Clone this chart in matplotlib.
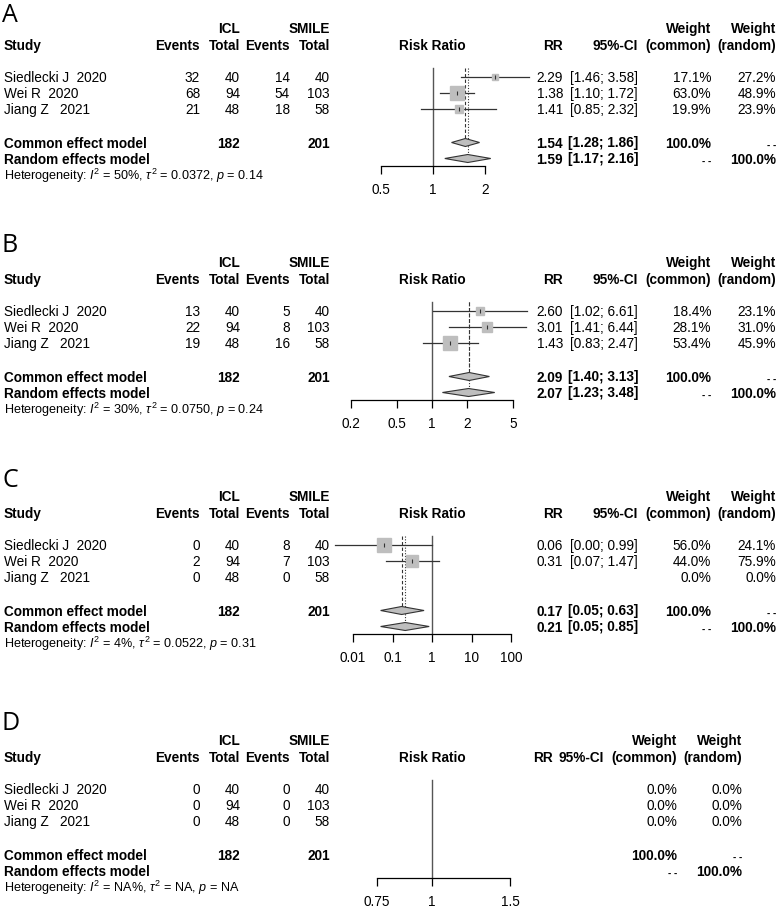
import matplotlib
matplotlib.use("Agg")
import matplotlib.pyplot as plt
from matplotlib.patches import Polygon
from matplotlib.ticker import NullLocator

plt.rcParams["font.family"] = ["Liberation Sans", "DejaVu Sans"]
plt.rcParams["mathtext.fontset"] = "custom"
plt.rcParams["mathtext.rm"] = "Liberation Sans"
plt.rcParams["mathtext.it"] = "Liberation Sans:italic"

# shared study info
studies = ["Siedlecki J  2020", "Wei R  2020", "Jiang Z   2021"]
icl_total = [40, 94, 48]
smile_total = [40, 103, 58]

# panel A
a_icl_ev = [32, 68, 21]
a_smile_ev = [14, 54, 18]
a_rr = [2.29, 1.38, 1.41]
a_lo = [1.46, 1.10, 0.85]
a_hi = [3.58, 1.72, 2.32]
a_wc = [17.1, 63.0, 19.9]
a_wr = [27.2, 48.9, 23.9]
a_common = (1.54, 1.28, 1.86)
a_random = (1.59, 1.17, 2.16)
a_het = ("50%", "0.0372", "0.14")
a_ticks = [0.5, 1, 2]

# panel B
b_icl_ev = [13, 22, 19]
b_smile_ev = [5, 8, 16]
b_rr = [2.60, 3.01, 1.43]
b_lo = [1.02, 1.41, 0.83]
b_hi = [6.61, 6.44, 2.47]
b_wc = [18.4, 28.1, 53.4]
b_wr = [23.1, 31.0, 45.9]
b_common = (2.09, 1.40, 3.13)
b_random = (2.07, 1.23, 3.48)
b_het = ("30%", "0.0750", "0.24")
b_ticks = [0.2, 0.5, 1, 2, 5]

# panel C
c_icl_ev = [0, 2, 0]
c_smile_ev = [8, 7, 0]
c_rr = [0.06, 0.31, None]
c_lo = [0.0035, 0.07, None]
c_hi = [0.99, 1.47, None]
c_wc = [56.0, 44.0, 0.0]
c_wr = [24.1, 75.9, 0.0]
c_common = (0.17, 0.05, 0.63)
c_random = (0.21, 0.05, 0.85)
c_het = ("4%", "0.0522", "0.31")
c_ticks = [0.01, 0.1, 1, 10, 100]

# panel D
d_icl_ev = [0, 0, 0]
d_smile_ev = [0, 0, 0]
d_rr = [None, None, None]
d_lo = [None, None, None]
d_hi = [None, None, None]
d_wc = [0.0, 0.0, 0.0]
d_wr = [0.0, 0.0, 0.0]
d_common = None
d_random = None
d_het = ("NA%", "NA", "NA")
d_ticks = [0.75, 1, 1.5]

W, H = 777, 908
fig = plt.figure(figsize=(W / 100, H / 100), dpi=100)
bg = fig.add_axes([0, 0, 1, 1])
bg.set_xlim(0, W)
bg.set_ylim(H, 0)
bg.axis("off")

FS = 9.8
GREY = "#bebebe"
DARK = "#333333"


def txt(x, y, s, ha="right", bold=False, size=FS):
    bg.text(x, y, s, ha=ha, va="baseline", fontsize=size,
            fontweight="bold" if bold else "normal", color="black")


def panel(letter, letter_y, y0, ev1, ev2, rr, lo, hi, wc, wr, common, random,
          het, ticks, plot_px, cols):
    rr_x, ci_x, wc_x, wr_x = cols
    bg.text(2, letter_y, letter, ha="left", va="baseline", fontsize=18,
            family="Open Sans")
    # headers
    txt(240, y0 - 44, "ICL", bold=True)
    txt(330, y0 - 44, "SMILE", bold=True)
    txt(wc_x, y0 - 44, "Weight", bold=True)
    txt(wr_x, y0 - 44, "Weight", bold=True)
    hy = y0 - 27
    txt(4, hy, "Study", ha="left", bold=True)
    txt(200, hy, "Events", bold=True)
    txt(240, hy, "Total", bold=True)
    txt(290, hy, "Events", bold=True)
    txt(330, hy, "Total", bold=True)
    txt(432, hy, "Risk Ratio", ha="center", bold=True)
    txt(rr_x, hy, "RR", bold=True)
    txt(ci_x, hy, "95%-CI", bold=True)
    txt(wc_x, hy, "(common)", bold=True)
    txt(wr_x, hy, "(random)", bold=True)

    # forest axes
    left, right = plot_px
    top = y0 - 9
    axis_y = y0 + 89
    ax = fig.add_axes([left / W, 1 - axis_y / H, (right - left) / W, (axis_y - top) / H])
    ax.set_xscale("log")
    ax.set_xlim(ticks[0], ticks[-1])
    ax.set_ylim(axis_y, top)
    ax.patch.set_alpha(0)
    for s in ["top", "right", "left"]:
        ax.spines[s].set_visible(False)
    ax.spines["bottom"].set_linewidth(0.9)
    ax.set_xticks(ticks)
    ax.set_xticklabels([f"{t:g}" for t in ticks])
    ax.xaxis.set_minor_locator(NullLocator())
    ax.tick_params(axis="x", direction="out", length=5.8, width=0.9, pad=6.5,
                   labelsize=FS)
    ax.set_yticks([])
    ax.plot([1, 1], [top, axis_y], color="#555555", lw=1, clip_on=False)

    wmax = max(wc) if max(wc) > 0 else 1
    for i in range(3):
        y = y0 + 16 * i
        txt(4, y + 5, studies[i], ha="left")
        txt(200, y + 5, str(ev1[i]))
        txt(240, y + 5, str(icl_total[i]))
        txt(290, y + 5, str(ev2[i]))
        txt(330, y + 5, str(smile_total[i]))
        if rr[i] is not None:
            txt(rr_x, y + 5, f"{rr[i]:.2f}")
            txt(ci_x, y + 5, f"[{lo[i]:.2f}; {hi[i]:.2f}]")
            ax.plot([lo[i], hi[i]], [y, y], color=DARK, lw=0.9, clip_on=False, zorder=2)
            ax.plot(rr[i], y, marker="s", ms=9.4 * (wc[i] / wmax) ** 0.5, mfc=GREY,
                    mec=GREY, ls="none", clip_on=False, zorder=3)
            ax.plot(rr[i], y, marker="|", ms=3, mec=DARK, mew=0.8, ls="none",
                    clip_on=False, zorder=4)
        txt(wc_x, y + 5, f"{wc[i]:.1f}%")
        txt(wr_x, y + 5, f"{wr[i]:.1f}%")

    yc = y0 + 65.5
    yr = y0 + 81.5
    txt(4, yc + 5, "Common effect model", ha="left", bold=True)
    txt(240, yc + 5, str(sum(icl_total)), bold=True)
    txt(330, yc + 5, str(sum(smile_total)), bold=True)
    txt(wc_x, yc + 5, "100.0%", bold=True)
    txt(wr_x, yc + 5, "- -", bold=True, size=7)
    txt(4, yr + 5, "Random effects model", ha="left", bold=True)
    txt(wc_x, yr + 5, "- -", bold=True, size=7)
    txt(wr_x, yr + 5, "100.0%", bold=True)
    for est, ys, ls in [(common, yc, (0, (3, 2))), (random, yr, (0, (1, 1.5)))]:
        if est is None:
            continue
        m, l, h = est
        txt(rr_x, ys + 5, f"{m:.2f}", bold=True)
        txt(ci_x, ys + 5, f"[{l:.2f}; {h:.2f}]", bold=True)
        ax.plot([m, m], [top, ys - 4], color=DARK, lw=0.8, ls=ls, clip_on=False)
        ax.add_patch(Polygon([(l, ys), (m, ys - 4), (h, ys), (m, ys + 4)],
                             closed=True, fc=GREY, ec=DARK, lw=0.8, clip_on=False,
                             zorder=3))

    i2, tau2, p = het
    bg.text(4, y0 + 103,
            rf"Heterogeneity: $I^2$ = {i2}, $\tau^2$ = {tau2}, $p$ = {p}",
            ha="left", va="baseline", fontsize=9.1)


cols_abc = (563, 638, 711, 776)
cols_d = (553, 604, 677, 742)

panel("A", 22, 77, a_icl_ev, a_smile_ev, a_rr, a_lo, a_hi, a_wc, a_wr, a_common,
      a_random, a_het, a_ticks, (381, 485), cols_abc)
panel("B", 252, 311, b_icl_ev, b_smile_ev, b_rr, b_lo, b_hi, b_wc, b_wr, b_common,
      b_random, b_het, b_ticks, (351, 513), cols_abc)
panel("C", 487, 545, c_icl_ev, c_smile_ev, c_rr, c_lo, c_hi, c_wc, c_wr, c_common,
      c_random, c_het, c_ticks, (353, 511), cols_abc)
panel("D", 730, 789, d_icl_ev, d_smile_ev, d_rr, d_lo, d_hi, d_wc, d_wr, d_common,
      d_random, d_het, d_ticks, (377, 510), cols_d)

fig.savefig("out.png", dpi=100)
